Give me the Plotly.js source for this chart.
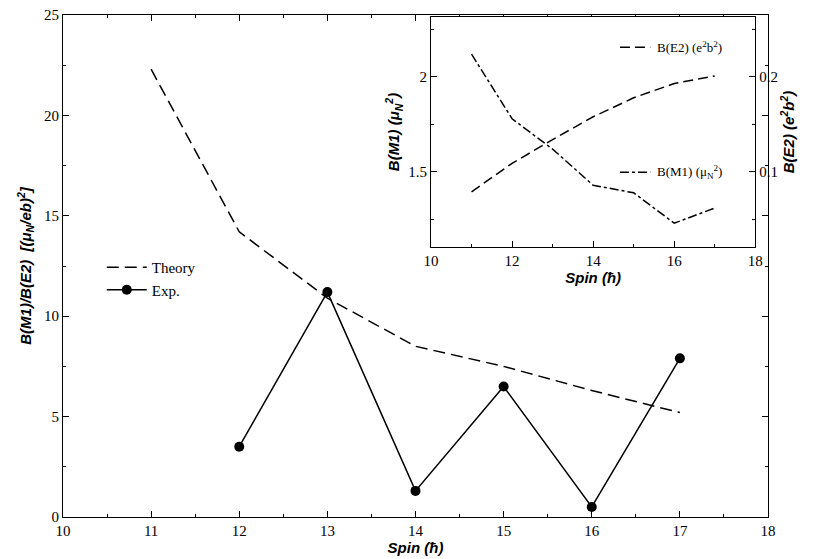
<!DOCTYPE html>
<html><head><script src="https://cdn.plot.ly/plotly-3.0.1.min.js"></script></head>
<body style="margin:0"><div id="plot" style="width:815px;height:559px"></div>
<script>
// main panel
var spin = [11, 12, 13, 14, 15, 16, 17];
var theory = [22.3, 14.2, 10.9, 8.5, 7.5, 6.3, 5.2];
var expSpin = [12, 13, 14, 15, 16, 17];
var expRatio = [3.5, 11.2, 1.3, 6.5, 0.5, 7.9];
// inset
var bm1 = [2.12, 1.78, 1.62, 1.43, 1.39, 1.23, 1.31];
var be2 = [0.079, 0.109, 0.134, 0.158, 0.178, 0.193, 0.201];

var serif = 'Liberation Serif, Times New Roman, serif';
var sans = 'Liberation Sans, Arial, sans-serif';
var titleFont = {family: sans, size: 15, weight: 'bold', style: 'italic', color: 'black'};

var data = [
  {x: spin, y: theory, mode: 'lines', name: 'Theory', line: {color: 'black', dash: '12px,6px', width: 1.5}},
  {x: expSpin, y: expRatio, mode: 'lines+markers', name: 'Exp.', line: {color: 'black', width: 1.5},
   marker: {color: 'black', size: 10}},
  {x: spin, y: bm1, mode: 'lines', xaxis: 'x2', yaxis: 'y2', showlegend: false,
   line: {color: 'black', dash: 'dashdot', width: 1.5}},
  {x: spin, y: be2, mode: 'lines', xaxis: 'x2', yaxis: 'y3', showlegend: false,
   line: {color: 'black', dash: '10px,5px', width: 1.5}}
];

var axBase = {showgrid: false, zeroline: false, showline: true, linecolor: 'black', linewidth: 1,
  ticks: 'inside', ticklen: 6, tickcolor: 'black', tickfont: {family: serif, size: 15, color: 'black'}};

var layout = {
  margin: {l: 63, r: 47, t: 15, b: 42},
  paper_bgcolor: 'white', plot_bgcolor: 'white',
  showlegend: true,
  legend: {x: 0.055, y: 0.475, bgcolor: 'rgba(0,0,0,0)', font: {family: serif, size: 15, color: 'black'},
    tracegroupgap: 6, itemwidth: 40},
  xaxis: Object.assign({}, axBase, {range: [10, 18], dtick: 1, mirror: 'ticks',
    minor: {ticks: 'inside', ticklen: 3, dtick: 0.5},
    title: {text: 'Spin (\u0127)', standoff: 2, font: titleFont}}),
  yaxis: Object.assign({}, axBase, {range: [0, 25], dtick: 5, mirror: 'ticks',
    minor: {ticks: 'inside', ticklen: 3, dtick: 2.5},
    title: {text: 'B(M1)/B(E2)  [(μ<sub>N</sub>/eb)<sup>2</sup>]', standoff: 8, font: titleFont}}),
  xaxis2: Object.assign({}, axBase, {domain: [0.522, 0.982], anchor: 'y2', range: [10, 18], dtick: 2, mirror: true,
    minor: {ticks: 'inside', ticklen: 3, dtick: 1},
    title: {text: 'Spin (\u0127)', standoff: 2, font: titleFont}}),
  yaxis2: Object.assign({}, axBase, {domain: [0.538, 0.996], anchor: 'x2', range: [1.105, 2.316], dtick: 0.5,
    minor: {ticks: 'inside', ticklen: 3, dtick: 0.25},
    title: {text: 'B(M1) (μ<sub>N</sub><sup>2</sup>)', standoff: 4, font: titleFont}}),
  yaxis3: Object.assign({}, axBase, {overlaying: 'y2', side: 'right', anchor: 'x2', range: [0.021, 0.263], dtick: 0.1,
    minor: {ticks: 'inside', ticklen: 3, dtick: 0.05},
    title: {text: 'B(E2) (e<sup>2</sup>b<sup>2</sup>)', standoff: 4, font: titleFont}}),
  shapes: [
    {type: 'line', xref: 'paper', yref: 'paper', x0: 0.79, x1: 0.833, y0: 0.936, y1: 0.936, line: {color: 'black', width: 1.5, dash: '10px,5px'}},
    {type: 'line', xref: 'paper', yref: 'paper', x0: 0.79, x1: 0.833, y0: 0.687, y1: 0.687, line: {color: 'black', width: 1.5, dash: 'dashdot'}}
  ],
  annotations: [
    {xref: 'paper', yref: 'paper', x: 0.84, y: 0.936, xanchor: 'left', yanchor: 'middle', showarrow: false,
     text: 'B(E2) (e<sup>2</sup>b<sup>2</sup>)', font: {family: serif, size: 13, color: 'black'}},
    {xref: 'paper', yref: 'paper', x: 0.84, y: 0.687, xanchor: 'left', yanchor: 'middle', showarrow: false,
     text: 'B(M1) (μ<sub>N</sub><sup>2</sup>)', font: {family: serif, size: 13, color: 'black'}}
  ]
};

Plotly.newPlot('plot', data, layout, {displayModeBar: false});
</script></body></html>
